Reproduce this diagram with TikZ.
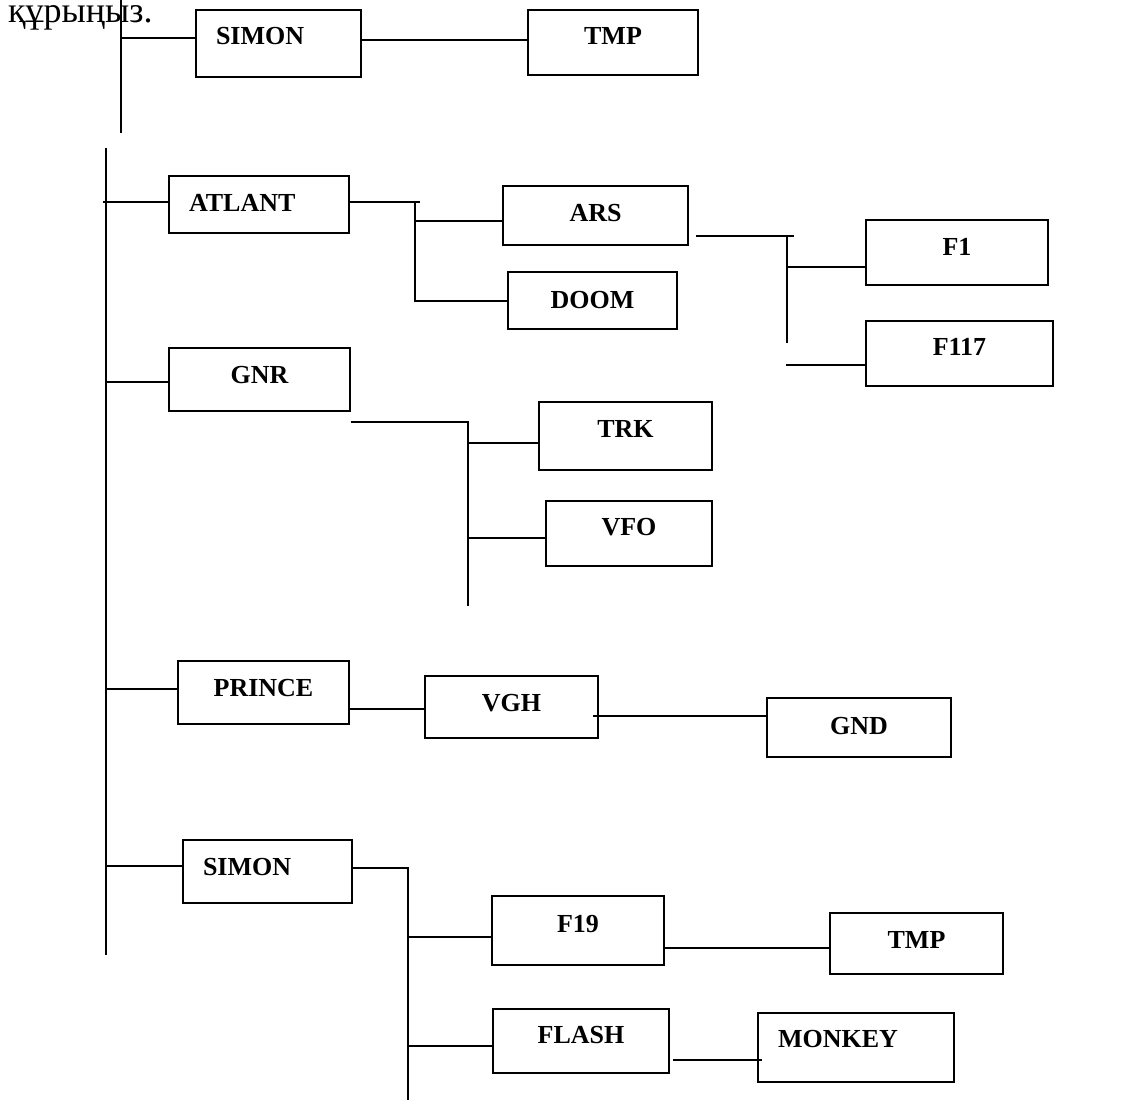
\documentclass[tikz,border=0pt]{standalone}
\usepackage{fontspec}
\setmainfont{Liberation Serif}
\begin{document}
\begin{tikzpicture}[x=1pt,y=-1pt,
  lw/.style={line width=2pt},
  box/.style={draw, lw, inner sep=0pt, anchor=north west, font=\fontsize{26}{30}\selectfont\bfseries},
  conn/.style={lw}]
\useasboundingbox (0,0) rectangle (1148,1100);
\clip (0,0) rectangle (1148,1100);
\fill[white] (0,0) rectangle (1148,1100);

% heading fragment
\node[anchor=base west, inner sep=0pt, font=\fontsize{36}{40}\selectfont] (hdr) at (8,22) {құрыңыз.};

% boxes
\node[box, minimum width=165pt, text height=34pt, text depth=33pt] (s1) at (195,9) {\makebox[165pt][l]{\hspace{20pt}SIMON}};
\node[box, minimum width=170pt, text height=34pt, text depth=31pt] (t1) at (527,9) {TMP};
\node[box, minimum width=180pt, text height=35pt, text depth=22pt] (atl) at (168,175) {\makebox[180pt][l]{\hspace{20pt}ATLANT}};
\node[box, minimum width=185pt, text height=35pt, text depth=24pt] (ars) at (502,185) {ARS};
\node[box, minimum width=169pt, text height=36pt, text depth=21pt] (doom) at (507,271) {DOOM};
\node[box, minimum width=182pt, text height=35pt, text depth=30pt] (f1) at (865,219) {F1};
\node[box, minimum width=187pt, text height=34pt, text depth=31pt] (f117) at (865,320) {F117};
\node[box, minimum width=181pt, text height=35pt, text depth=28pt] (gnr) at (168,347) {GNR};
\node[box, minimum width=173pt, text height=35pt, text depth=33pt] (trk) at (538,401) {TRK};
\node[box, minimum width=166pt, text height=34pt, text depth=31pt] (vfo) at (545,500) {VFO};
\node[box, minimum width=171pt, text height=35pt, text depth=28pt] (prince) at (177,660) {PRINCE};
\node[box, minimum width=173pt, text height=35pt, text depth=27pt] (vgh) at (424,675) {VGH};
\node[box, minimum width=184pt, text height=36pt, text depth=23pt] (gnd) at (766,697) {GND};
\node[box, minimum width=169pt, text height=35pt, text depth=28pt] (s2) at (182,839) {\makebox[169pt][l]{\hspace{20pt}SIMON}};
\node[box, minimum width=172pt, text height=36pt, text depth=33pt] (f19) at (491,895) {F19};
\node[box, minimum width=173pt, text height=35pt, text depth=26pt] (t2) at (829,912) {TMP};
\node[box, minimum width=176pt, text height=34pt, text depth=30pt] (flash) at (492,1008) {FLASH};
\node[box, minimum width=196pt, text height=34pt, text depth=35pt] (monkey) at (757,1012) {\makebox[196pt][l]{\hspace{20pt}MONKEY}};

% trunks and junction ends
\coordinate (tr0top) at (121,0);
\coordinate (tr0bot) at (121,133);
\coordinate (tr1top) at (106,148);
\coordinate (tr1bot) at (106,955);
\coordinate (j1) at (415,202);
\coordinate (j2) at (787,236);
\coordinate (j2b) at (787,343);
\coordinate (j3b) at (468,606);
\coordinate (j4b) at (408,1100);

\draw[conn] (tr0top) -- (tr0bot);
\draw[conn] (tr1top) -- (tr1bot);

% top group
\draw[conn] ([yshift=-29pt]s1.north west) -- ++(-74,0);
\draw[conn] ([yshift=-31pt]s1.north east) -- ([yshift=-31pt]t1.north west);

% ATLANT group
\draw[conn] ([yshift=-27pt]atl.north west) -- ++(-65,0);
\draw[conn] ([yshift=-27pt]atl.north east) -- ++(70,0);
\draw[conn] (j1) |- ([yshift=-30pt]doom.north west);
\draw[conn] ([yshift=-36pt]ars.north west) -- ++(-87,0);
\draw[conn] ([xshift=7pt,yshift=-51pt]ars.north east) -- ++(98,0);
\draw[conn] (j2) -- (j2b);
\draw[conn] ([yshift=-48pt]f1.north west) -- ++(-78,0);
\draw[conn] ([yshift=-45pt]f117.north west) -- ++(-79,0);

% GNR group
\draw[conn] ([yshift=-35pt]gnr.north west) -- ++(-62,0);
\draw[conn] ([yshift=-10pt]gnr.south east) -| (j3b);
\draw[conn] ([yshift=-42pt]trk.north west) -- ++(-70,0);
\draw[conn] ([yshift=-38pt]vfo.north west) -- ++(-77,0);

% PRINCE group
\draw[conn] ([yshift=-29pt]prince.north west) -- ++(-71,0);
\draw[conn] ([yshift=-49pt]prince.north east) -- ([yshift=-34pt]vgh.north west);
\draw[conn] ([yshift=-19pt]gnd.north west) -- ++(-173,0);

% SIMON group
\draw[conn] ([yshift=-27pt]s2.north west) -- ++(-76,0);
\draw[conn] ([yshift=-29pt]s2.north east) -| (j4b);
\draw[conn] ([yshift=-42pt]f19.north west) -- ++(-83,0);
\draw[conn] ([yshift=-38pt]flash.north west) -- ++(-84,0);
\draw[conn] ([yshift=-53pt]f19.north east) -- ([yshift=-36pt]t2.north west);
\draw[conn] ([xshift=3pt,yshift=-52pt]flash.north east) -- ++(89,0);
\end{tikzpicture}
\end{document}
